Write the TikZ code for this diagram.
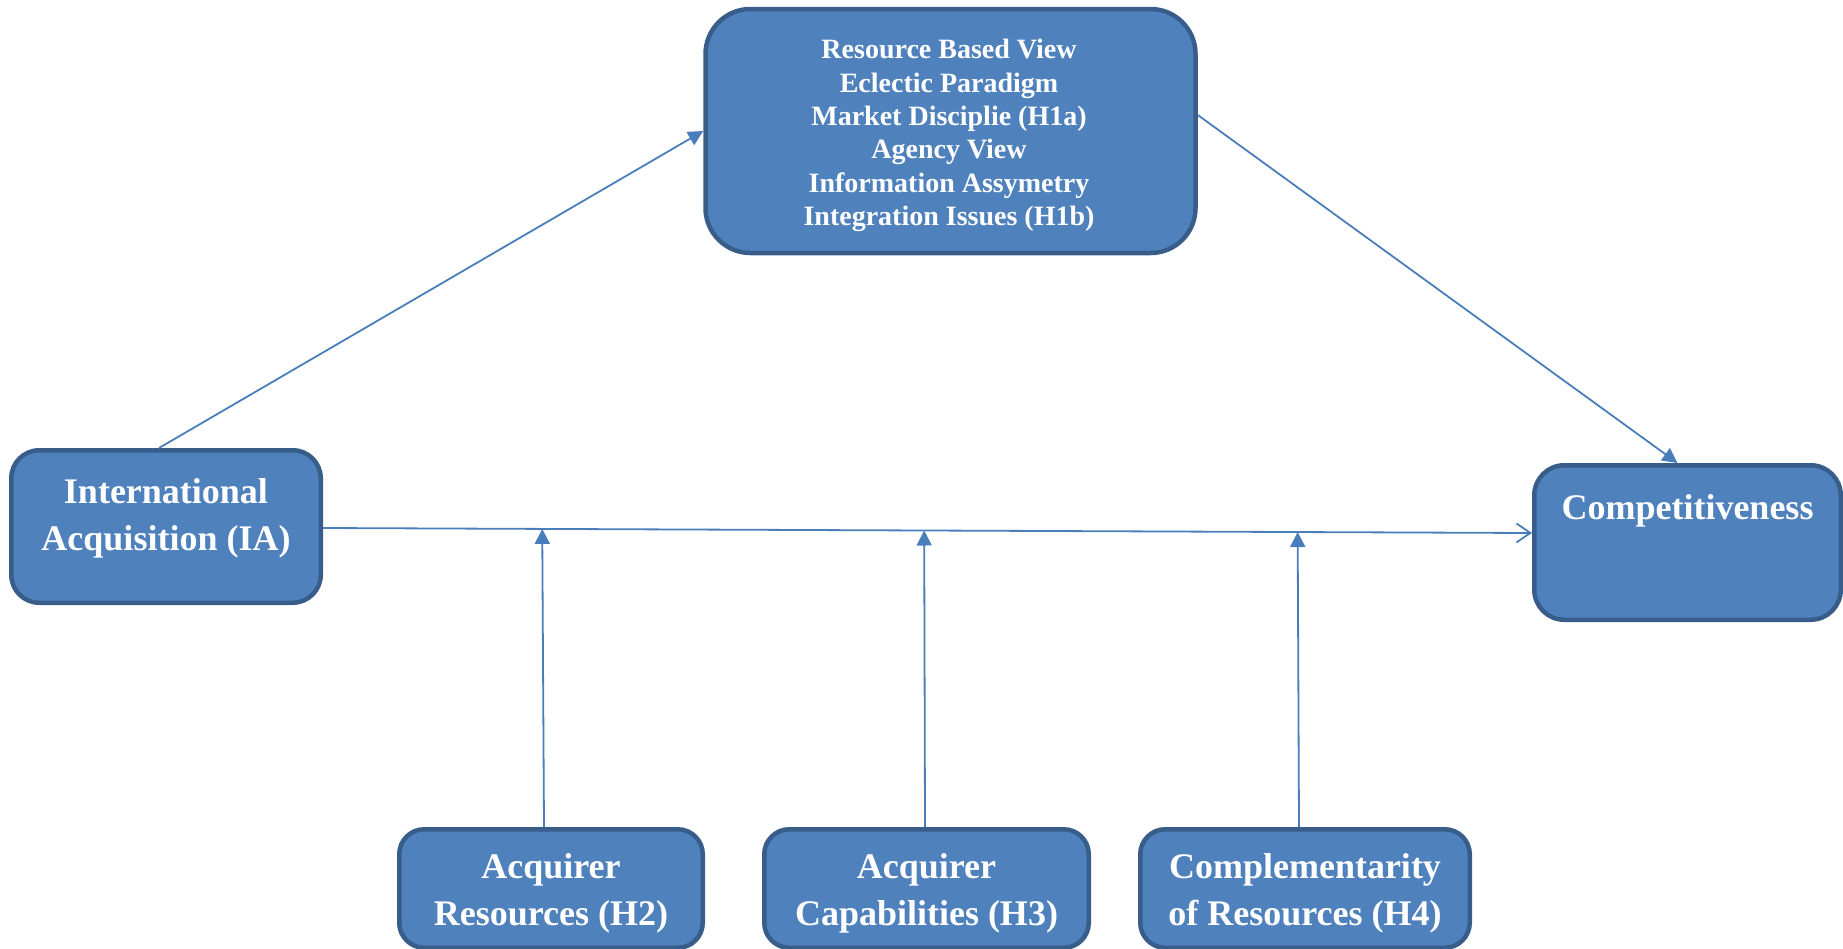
\documentclass[tikz,border=0pt]{standalone}
\usepackage{fontspec}
\setmainfont{Liberation Serif}
\usetikzlibrary{arrows.meta,calc}
\definecolor{boxfill}{HTML}{4F81BD}
\definecolor{boxline}{HTML}{385D8A}
\definecolor{arrowc}{HTML}{4A7EBB}
\begin{document}
\begin{tikzpicture}[x=1pt,y=-1pt,
  box/.style={draw=boxline, fill=boxfill, line width=4.5pt, rectangle, inner sep=0pt},
  lbl/.style={text=white, font=\bfseries\fontsize{36}{47}\selectfont, align=center, inner sep=0pt, anchor=north},
  toplbl/.style={lbl, font=\bfseries\fontsize{28}{33.4}\selectfont},
  conn/.style={draw=arrowc, line width=1.8pt},
  solidtip/.style={-{Triangle[length=15pt,width=15pt]}},
  opentip/.style={-{Straight Barb[length=14pt,width=19pt,line width=1.8pt]}}
]
\useasboundingbox (0,0) rectangle (1843,948);

\node[box, rounded corners=45pt, minimum width=490pt, minimum height=244pt] (rbv) at (950.5,131) {};
\node[box, rounded corners=28pt, minimum width=309.5pt, minimum height=152.5pt] (ia) at (166,526.5) {};
\node[box, rounded corners=30pt, minimum width=306.5pt, minimum height=154.5pt] (comp) at (1687.5,542.5) {};
\node[box, rounded corners=25pt, minimum width=303.5pt, minimum height=118.5pt] (h2) at (551,888.5) {};
\node[box, rounded corners=25pt, minimum width=324.5pt, minimum height=118.5pt] (h3) at (926.5,888.5) {};
\node[box, rounded corners=25pt, minimum width=329.5pt, minimum height=118.5pt] (h4) at (1305,888.5) {};

\node[toplbl] (rbvt) at (949,39) {Resource Based View\\Eclectic Paradigm\\Market Disciplie (H1a)\\Agency View\\Information Assymetry\\Integration Issues (H1b)};
\node[lbl] (iat) at (166,478) {International\\Acquisition (IA)};
\node[lbl] (compt) at (1687.5,494) {Competitiveness};
\node[lbl] (h2t) at (551,853.5) {Acquirer\\Resources (H2)};
\node[lbl] (h3t) at (926.5,853.5) {Acquirer\\Capabilities (H3)};
\node[lbl] (h4t) at (1305,853.5) {Complementarity\\of Resources (H4)};

\coordinate (hstart) at ($(ia.east)+(0,1.5)$);
\coordinate (hend) at ($(comp.west)+(0,-9.5)$);
\coordinate (s2) at ($(h2.north)+(-7,0)$);
\coordinate (s3) at ($(h3.north)+(-1.5,0)$);
\coordinate (s4) at ($(h4.north)+(-6,0)$);
\coordinate (p2) at ($(hstart)!(s2)!(hend)$);
\coordinate (p3) at ($(hstart)!(s3)!(hend)$);
\coordinate (p4) at ($(hstart)!(s4)!(hend)$);

\draw[conn, solidtip] ($(ia.north)+(-7,0)$) -- (rbv.west);
\draw[conn, solidtip] ($(rbv.east)+(0,-16)$) -- ($(comp.north)+(-10,0)$);
\draw[conn, opentip] (hstart) -- (hend);
\draw[conn, solidtip] (s2) -- ($(p2)+(-3,0)$);
\draw[conn, solidtip] (s3) -- ($(p3)+(-2,0)$);
\draw[conn, solidtip] (s4) -- ($(p4)+(-2.5,0)$);
\end{tikzpicture}
\end{document}
